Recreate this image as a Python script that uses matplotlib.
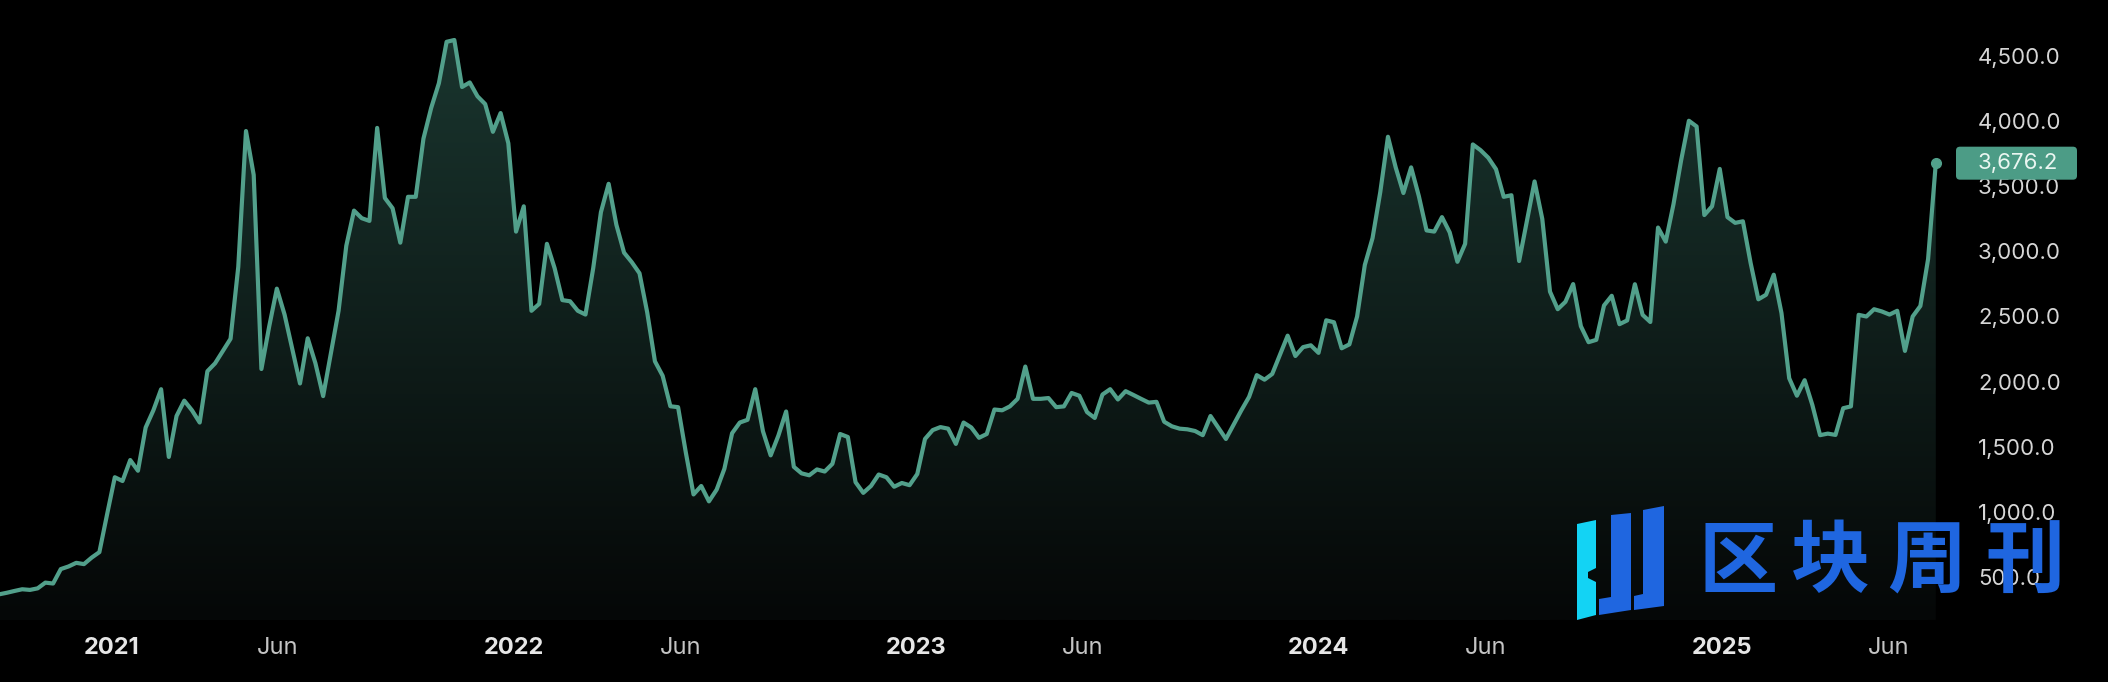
# ETH weekly close, dark theme with gradient fill

import matplotlib
matplotlib.use("Agg")
import matplotlib.pyplot as plt
import matplotlib.dates as mdates
from matplotlib.patches import FancyBboxPatch, Polygon
from matplotlib.transforms import IdentityTransform
from matplotlib.ticker import FuncFormatter
import numpy as np
import pandas as pd

# weekly closes, week starting Monday (first week: 2020-09-21)
precio_2020 = [366, 378, 392, 405, 400, 412, 456, 449, 560, 580, 608, 598, 648, 690, 980]
precio_2021 = [1265, 1236, 1397, 1315, 1647, 1779, 1941, 1421, 1735, 1853, 1779, 1685, 2079,
               2140, 2234, 2328, 2880, 3923, 3586, 2096, 2420, 2713, 2514, 2250, 1985, 2332,
               2140, 1888, 2215, 2543, 3042, 3312, 3254, 3233, 3947, 3409, 3330, 3066, 3418,
               3418, 3865, 4100, 4290, 4608, 4622, 4261, 4296, 4190, 4130, 3917, 4061, 3829]
precio_2022 = [3151, 3345, 2543, 2596, 3057, 2870, 2625, 2616, 2543, 2514, 2870, 3300, 3518,
               3204, 2989, 2916, 2831, 2530, 2155, 2044, 1810, 1803, 1456, 1133, 1198, 1080,
               1170, 1330, 1603, 1685, 1706, 1941, 1618, 1433, 1585, 1770, 1345, 1295, 1280,
               1325, 1309, 1368, 1597, 1574, 1227, 1145, 1198, 1286, 1265, 1192, 1221, 1204]
precio_2023 = [1290, 1559, 1627, 1650, 1638, 1521, 1685, 1647, 1568, 1597, 1785, 1779, 1809,
               1867, 2115, 1867, 1867, 1873, 1803, 1809, 1912, 1891, 1765, 1720, 1900, 1941,
               1862, 1926, 1897, 1867, 1838, 1844, 1691, 1656, 1638, 1633, 1620, 1588, 1735,
               1647, 1559, 1669, 1779, 1882, 2049, 2014, 2058, 2205, 2352, 2196, 2264, 2278]
precio_2024 = [2220, 2470, 2455, 2255, 2285, 2499, 2895, 3101, 3453, 3879, 3644, 3447, 3644,
               3424, 3160, 3151, 3262, 3145, 2919, 3057, 3820, 3776, 3718, 3630, 3418, 3430,
               2925, 3230, 3536, 3248, 2690, 2555, 2612, 2748, 2425, 2302, 2320, 2584, 2658,
               2440, 2469, 2747, 2512, 2457, 3182, 3074, 3360, 3700, 4002, 3958, 3278, 3345, 3632]
precio_2025 = [3262, 3218, 3230, 2910, 2631, 2666, 2820, 2525, 2025, 1891, 2010, 1820, 1588,
               1600, 1590, 1795, 1809, 2512, 2499, 2555, 2538, 2514, 2543, 2235, 2499, 2580,
               2940, 3676.2]

inicio = "2020-09-21"
anios = [2021, 2022, 2023, 2024, 2025]
ticks_y = [500, 1000, 1500, 2000, 2500, 3000, 3500, 4000, 4500]

precios = np.array(precio_2020 + precio_2021 + precio_2022 + precio_2023 + precio_2024 + precio_2025, dtype=float)
fechas = pd.date_range(inicio, periods=len(precios), freq="7D")
x = mdates.date2num(fechas)

VERDE = "#52a08b"
plt.rcParams["font.family"] = ["Inter", "DejaVu Sans"]

W, H = 2108, 682
fig = plt.figure(figsize=(W / 100, H / 100), dpi=100, facecolor="black")
ax = fig.add_axes([0, 62 / H, 1965 / W, 620 / H])
ax.set_facecolor("black")

y_min, y_max = 169, 4929
px_dia = 1.1023
x_izq = mdates.date2num(pd.Timestamp("2021-01-01")) - 111.5 / px_dia
x_der = x_izq + 1965 / px_dia

# relleno con degradado bajo la linea
relleno = ax.fill_between(x, precios, y_min, facecolor="none", edgecolor="none")
g = np.linspace(0, 1, 256)[:, None]
arriba = np.array([26, 54, 47]) / 255
abajo = np.array([5, 7, 7]) / 255
img = (abajo + (arriba - abajo) * g)[:, None, :]
im = ax.imshow(img, extent=[x[0], x[-1], y_min, 4700], origin="lower", aspect="auto", zorder=1)
im.set_clip_path(relleno.get_paths()[0], transform=ax.transData)

ax.plot(x, precios, color=VERDE, lw=3.0, solid_joinstyle="round", zorder=3)
ax.plot(x[-1], precios[-1], "o", ms=7, color=VERDE, zorder=4)

ax.set_xlim(x_izq, x_der)
ax.set_ylim(y_min, y_max)

for s in ax.spines.values():
    s.set_visible(False)

# eje y a la derecha
ax.yaxis.tick_right()
ax.set_yticks(ticks_y)
ax.yaxis.set_major_formatter(FuncFormatter(lambda v, _: f"{v:,.1f}"))
ax.tick_params(axis="y", length=0, pad=9.4, labelsize=16, labelcolor="#d6d6d6")

# eje x: años y junio
pos, etiquetas = [], []
for a in anios:
    pos += [mdates.date2num(pd.Timestamp(f"{a}-01-01")), mdates.date2num(pd.Timestamp(f"{a}-06-01"))]
    etiquetas += [str(a), "Jun"]
ax.set_xticks(pos, etiquetas)
ax.tick_params(axis="x", length=0, pad=12.5, labelsize=17)
for t in ax.get_xticklabels():
    if t.get_text() == "Jun":
        t.set_color("#c4c4c4")
    else:
        t.set_color("#e6e6e6")
        t.set_fontweight("bold")

# etiqueta del ultimo precio
y_disp = ax.transData.transform((x[-1], precios[-1]))[1]
caja = FancyBboxPatch((1956, y_disp - 16.5), 121, 33, boxstyle="round,pad=0,rounding_size=4",
                      transform=IdentityTransform(), fc="#4c9c86", ec="none", zorder=5)
fig.add_artist(caja)
fig.text(1978 / W, y_disp / H, f"{precios[-1]:,.1f}", va="center", ha="left",
         fontsize=16, color="#eaf6f1", zorder=6)

# marca de agua
def poli(puntos, color):
    pts = [(px, H - py) for px, py in puntos]
    fig.add_artist(Polygon(pts, closed=True, transform=IdentityTransform(), fc=color, ec="none", zorder=7))

poli([(1577, 524), (1596, 520), (1596, 568), (1588, 572), (1588, 578), (1596, 582),
      (1596, 615), (1577, 620)], "#13d3f4")
poli([(1611, 515), (1631, 513), (1631, 610), (1599, 615), (1599, 599), (1611, 597)], "#1f66e0")
poli([(1643, 510), (1664, 506), (1664, 606), (1634, 610), (1634, 596), (1643, 594)], "#1f66e0")

for ch, cx in zip("区块周刊", [1738, 1830, 1927, 2025]):
    fig.text(cx / W, (H - 563) / H, ch, ha="center", va="center", fontsize=57,
             fontweight="bold", color="#1f66e0", family=["Noto Sans CJK SC"], zorder=7)

fig.savefig("out.png", dpi=100, facecolor="black")
